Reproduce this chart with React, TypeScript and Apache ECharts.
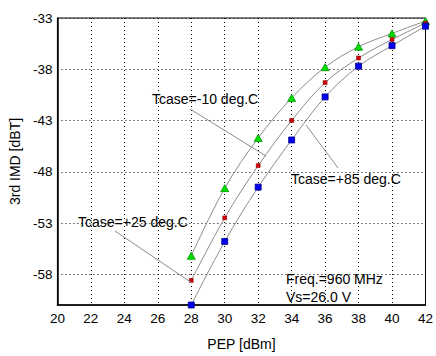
import React, { useEffect, useRef } from "react";
import * as echarts from "echarts";

const pep = [28, 30, 32, 34, 36, 38, 40, 42];
const imdMinus10 = [-56.2, -49.6, -44.7, -40.8, -37.8, -35.8, -34.5, -33.3];
const imdPlus25 = [-58.6, -52.5, -47.4, -43.0, -39.3, -36.9, -35.1, -33.5];
const imdPlus85 = [-61.0, -54.8, -49.5, -44.9, -40.7, -37.7, -35.7, -33.8];
const yTicks = [-58, -53, -48, -43, -38, -33];

const FONT = "Liberation Sans, Arial, sans-serif";

export default function App() {
  const ref = useRef<HTMLDivElement>(null);
  useEffect(() => {
    if (!ref.current) return;
    const chart = echarts.init(ref.current, null, { renderer: "svg" });
    const mk = (vals: number[]) => pep.map((x, i) => [x, vals[i]]);
    const lineStyle = { color: "#8c8c8c", width: 1 };
    chart.setOption({
      animation: false,
      backgroundColor: "#ffffff",
      grid: {
        left: 57,
        right: 5,
        top: 18,
        bottom: 46,
        show: true,
        borderColor: "#000",
        borderWidth: 1,
        backgroundColor: "transparent",
      },
      xAxis: {
        type: "value",
        min: 20,
        max: 42,
        interval: 2,
        name: "PEP [dBm]",
        nameLocation: "middle",
        nameGap: 32,
        nameTextStyle: { color: "#000", fontSize: 14, fontFamily: FONT },
        axisLine: { show: true, lineStyle: { color: "#000", width: 1.5 } },
        axisTick: { show: false },
        axisLabel: { color: "#000", fontSize: 13.5, fontFamily: FONT, margin: 6 },
        splitLine: { show: true, lineStyle: { color: "#000", type: [1, 3], width: 1 } },
      },
      yAxis: {
        type: "value",
        min: -61,
        max: -33,
        name: "3rd IMD [dBT]",
        nameLocation: "middle",
        nameGap: 35,
        nameTextStyle: { color: "#000", fontSize: 14, fontFamily: FONT },
        axisLine: { show: true, lineStyle: { color: "#000", width: 1.5 } },
        axisTick: { show: false, customValues: yTicks },
        axisLabel: { color: "#000", fontSize: 13.5, fontFamily: FONT, margin: 5, customValues: yTicks },
        splitLine: { show: true, lineStyle: { color: "#000", type: [1, 3], width: 1 } },
      },
      series: [
        {
          name: "Tcase=-10 deg.C",
          type: "line",
          data: mk(imdMinus10),
          smooth: 0.35,
          clip: false,
          symbol: "triangle",
          symbolSize: [8, 7],
          lineStyle,
          itemStyle: { color: "#00dd00", borderColor: "#009900", borderWidth: 0.8 },
          z: 3,
        },
        {
          name: "Tcase=+25 deg.C",
          type: "line",
          data: mk(imdPlus25),
          smooth: 0.35,
          clip: false,
          symbol: "rect",
          symbolSize: 4,
          lineStyle,
          itemStyle: { color: "#cc0000", borderColor: "#880000", borderWidth: 0.5 },
          z: 4,
        },
        {
          name: "Tcase=+85 deg.C",
          type: "line",
          data: mk(imdPlus85),
          smooth: 0.35,
          clip: false,
          symbol: "rect",
          symbolSize: 6,
          lineStyle,
          itemStyle: { color: "#0000ee", borderColor: "#000088", borderWidth: 0.8 },
          z: 5,
        },
      ],
      graphic: [
        { type: "line", shape: { x1: 190, y1: 109, x2: 266, y2: 156 }, style: { stroke: "#8c8c8c", lineWidth: 1 }, z: 10 },
        { type: "line", shape: { x1: 338, y1: 168, x2: 306, y2: 125 }, style: { stroke: "#8c8c8c", lineWidth: 1 }, z: 10 },
        { type: "line", shape: { x1: 115, y1: 231, x2: 192, y2: 283 }, style: { stroke: "#8c8c8c", lineWidth: 1 }, z: 10 },
        { type: "text", left: 152, top: 92, style: { text: "Tcase=-10 deg.C", fill: "#000", font: `14px ${FONT}` }, z: 11 },
        { type: "text", left: 291, top: 172, style: { text: "Tcase=+85 deg.C", fill: "#000", font: `14px ${FONT}` }, z: 11 },
        { type: "text", left: 78, top: 215, style: { text: "Tcase=+25 deg.C", fill: "#000", font: `14px ${FONT}` }, z: 11 },
        { type: "text", left: 286, top: 272, style: { text: "Freq.=960 MHz", fill: "#000", font: `14px ${FONT}` }, z: 11 },
        { type: "text", left: 286, top: 290, style: { text: "Vs=26.0 V", fill: "#000", font: `14px ${FONT}` }, z: 11 },
      ],
    });
    return () => chart.dispose();
  }, []);
  return <div ref={ref} style={{ width: 436, height: 356, position: "absolute", left: 0, top: 0 }} />;
}
